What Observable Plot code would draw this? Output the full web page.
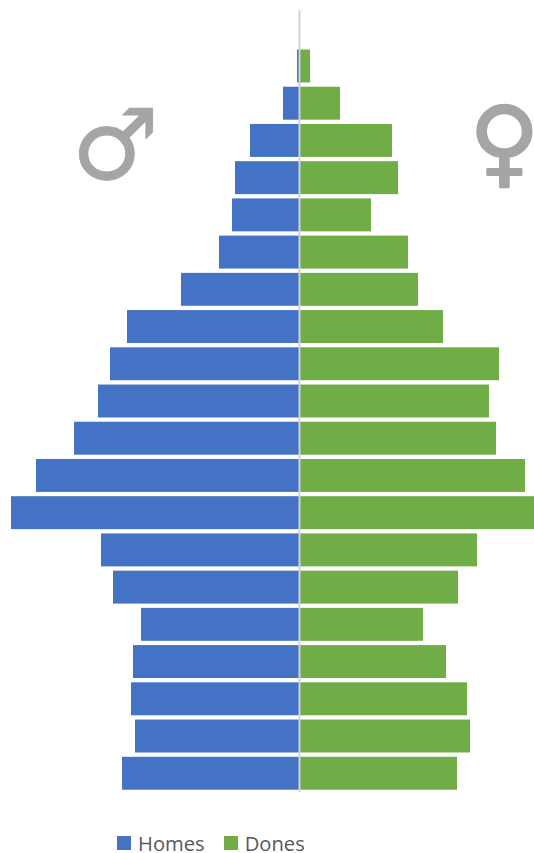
<!DOCTYPE html>
<html>
<head>
<meta charset="utf-8">
<script src="https://cdn.jsdelivr.net/npm/d3@7"></script>
<script src="https://cdn.jsdelivr.net/npm/@observablehq/plot@0.6"></script>
<style>
html,body{margin:0;padding:0;background:#fff}
#chart svg{display:block}
#legend{margin:28px 0 0 117px;display:flex;align-items:center;font:20.2px/20px "Open Sans",sans-serif;color:#595959;height:20px}
.sw{display:inline-block;width:14px;height:14px;margin-right:7px}
.it{display:flex;align-items:center;margin-right:19px}
</style>
</head>
<body>
<div id="chart"></div>
<div id="legend"></div>
<script>
const ageGroups = ["100+","95-99","90-94","85-89","80-84","75-79","70-74","65-69","60-64","55-59","50-54","45-49","40-44","35-39","30-34","25-29","20-24","15-19","10-14","5-9","0-4"];
const homes = [0,2,16,49,64,67,80,118,172,189,201,225,263,288,198,186,158,166,168,164,177];
const dones = [0,11,41,93,99,72,109,119,144,200,190,197,226,235,178,159,124,147,168,171,158];
const seriesNames = ["Homes","Dones"];
const seriesColors = ["#4472C4","#70AD47"];

const rows = ageGroups.flatMap((g,i)=>[
  {group:g, sex:"Homes", v:-homes[i]},
  {group:g, sex:"Dones", v:dones[i]}
]);
const maleSymbol = [{glyph:"\u2642", v:-184, group:"85-89"}];
const femaleSymbol = [{glyph:"\u2640", v:205, group:"85-89"}];

const chart = Plot.plot({
  width:534, height:805,
  marginTop:8, marginBottom:11, marginLeft:0, marginRight:0,
  x:{domain:[-299,235], axis:null},
  y:{domain:ageGroups, axis:null, padding:0.115, round:false},
  color:{domain:seriesNames, range:seriesColors},
  marks:[
    Plot.barX(rows,{x:"v", y:"group", fill:"sex"}),
    Plot.ruleX([0],{stroke:"#cfd3d6", strokeWidth:2, insetTop:2, insetBottom:2}),
    Plot.text(maleSymbol,{x:"v", y:"group", dy:7, text:"glyph", fontSize:98, fill:"#A5A5A5", stroke:"#A5A5A5", strokeWidth:0.8, fontFamily:"DejaVu Sans"}),
    Plot.text(femaleSymbol,{x:"v", y:"group", dy:3, text:"glyph", fontSize:96, fill:"#A5A5A5", stroke:"#A5A5A5", strokeWidth:2.2, fontFamily:"DejaVu Sans"})
  ]
});
document.getElementById("chart").append(chart);

const legend = document.getElementById("legend");
seriesNames.forEach((n,i)=>{
  const it=document.createElement("span"); it.className="it";
  const s=document.createElement("span"); s.className="sw"; s.style.background=seriesColors[i];
  it.append(s, document.createTextNode(n));
  legend.append(it);
});
</script>
</body>
</html>
